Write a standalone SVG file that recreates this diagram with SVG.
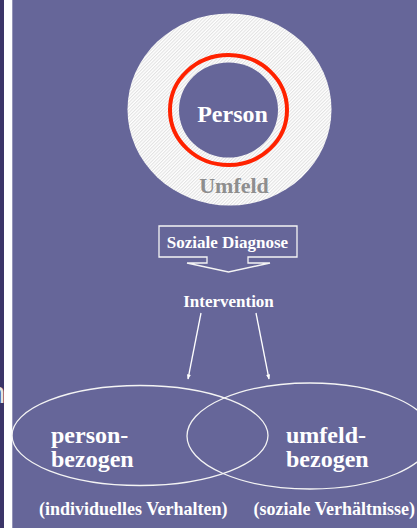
<svg xmlns="http://www.w3.org/2000/svg" width="417" height="528" viewBox="0 0 417 528">
<style>
.t{font-family:"Liberation Serif","Times New Roman",serif;font-weight:bold;fill:#ffffff}
.ln{fill:none;stroke:#f4f4f4;stroke-width:1.3}
</style>
<defs>
<pattern id="hatch" width="2.4" height="2.4" patternUnits="userSpaceOnUse" patternTransform="rotate(45)">
<rect width="2.4" height="2.4" fill="#ffffff"/>
<line x1="0.6" y1="0" x2="0.6" y2="2.4" stroke="#d2d2d2" stroke-width="0.7"/>
</pattern>
<marker id="ah" viewBox="0 0 10 10" refX="9" refY="5" markerWidth="8" markerHeight="5" orient="auto" markerUnits="userSpaceOnUse">
<path d="M0,1 L10,5 L0,9 Z" fill="#ffffff"/>
</marker>
</defs>
<rect x="0" y="0" width="417" height="528" fill="#666699"/>
<rect x="0" y="0" width="4" height="528" fill="#3b3568"/>
<text x="-11" y="403" style="font-family:'Liberation Sans',Arial,sans-serif;font-size:29px;fill:#e6e6e6">n</text>
<rect x="4" y="0" width="8.3" height="528" fill="#ffffff"/>

<g id="umfeld">
<ellipse cx="229.5" cy="109.5" rx="102" ry="96" fill="url(#hatch)"/>
<text class="t" x="234" y="193" text-anchor="middle" style="font-size:22px;fill:#8e8e8e">Umfeld</text>
</g>
<g id="person">
<ellipse cx="228.5" cy="110" rx="49.5" ry="47.5" fill="#666699"/>
<ellipse cx="228.5" cy="110" rx="58.5" ry="55" fill="none" stroke="#ff2200" stroke-width="4"/>
<text class="t" x="232.5" y="122" text-anchor="middle" style="font-size:24px">Person</text>
</g>
<g id="diagnose">
<path class="ln" d="M159,226 H297 V257 H248 V263 H270 L228.5,272 L187,263 H207 V257 H159 Z"/>
<text class="t" x="227.5" y="248" text-anchor="middle" style="font-size:17px">Soziale Diagnose</text>
</g>
<g id="intervention">
<text class="t" x="228.5" y="307" text-anchor="middle" style="font-size:17px">Intervention</text>
</g>
<g id="personbezogen">
<ellipse class="ln" cx="140" cy="435.5" rx="128" ry="50"/>
<text class="t" x="51" y="443" style="font-size:24px">person-</text>
<text class="t" x="51" y="467" style="font-size:24px">bezogen</text>
<text class="t" x="39" y="515" style="font-size:18px">(individuelles Verhalten)</text>
</g>
<g id="umfeldbezogen">
<ellipse class="ln" cx="310" cy="436" rx="123" ry="53"/>
<text class="t" x="286" y="443" style="font-size:24px">umfeld-</text>
<text class="t" x="286" y="467" style="font-size:24px">bezogen</text>
<text class="t" x="415" y="515" text-anchor="end" style="font-size:18px">(soziale Verhältnisse)</text>
</g>
<g id="connectors">
<line x1="201" y1="313" x2="188" y2="379" stroke="#ffffff" stroke-width="1.3" marker-end="url(#ah)"/>
<line x1="256" y1="313" x2="269" y2="379" stroke="#ffffff" stroke-width="1.3" marker-end="url(#ah)"/>
</g>
</svg>
